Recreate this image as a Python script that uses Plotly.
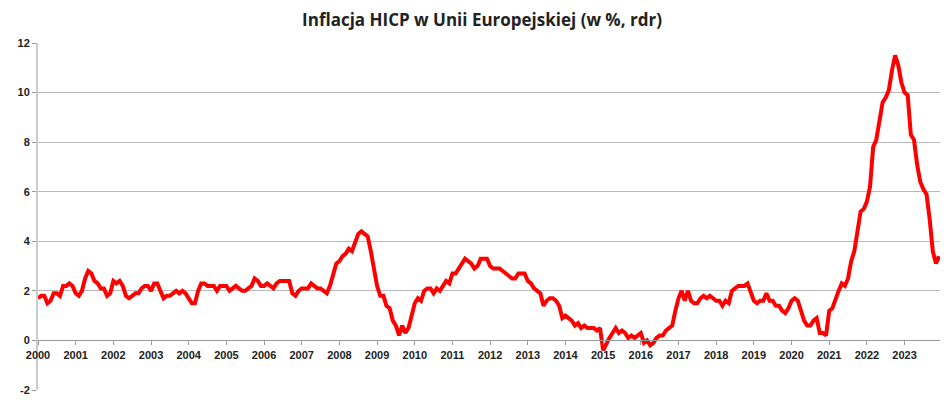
import numpy as np
import plotly.graph_objects as go

# monthly HICP y/y, 2000-01 .. 2023-12
years = list(range(2000, 2024))
hicp = [
    1.7, 1.8, 1.8, 1.5, 1.6, 1.9, 1.9, 1.8, 2.2, 2.2, 2.3, 2.2,   # 2000
    1.9, 1.8, 2.0, 2.5, 2.8, 2.7, 2.4, 2.3, 2.1, 2.1, 1.8, 1.9,   # 2001
    2.4, 2.3, 2.4, 2.2, 1.8, 1.7, 1.8, 1.9, 1.9, 2.1, 2.2, 2.2,   # 2002
    2.0, 2.3, 2.3, 2.0, 1.7, 1.8, 1.8, 1.9, 2.0, 1.9, 2.0, 1.9,   # 2003
    1.7, 1.5, 1.5, 2.0, 2.3, 2.3, 2.2, 2.2, 2.2, 2.0, 2.2, 2.2,   # 2004
    2.2, 2.0, 2.1, 2.2, 2.1, 2.0, 2.0, 2.1, 2.2, 2.5, 2.4, 2.2,   # 2005
    2.2, 2.3, 2.2, 2.1, 2.3, 2.4, 2.4, 2.4, 2.4, 1.9, 1.8, 2.0,   # 2006
    2.1, 2.1, 2.1, 2.3, 2.2, 2.1, 2.1, 2.0, 1.9, 2.2, 2.7, 3.1,   # 2007
    3.2, 3.4, 3.5, 3.7, 3.6, 4.0, 4.3, 4.4, 4.3, 4.2, 3.6, 2.8,   # 2008
    2.2, 1.8, 1.8, 1.4, 1.3, 0.8, 0.6, 0.2, 0.6, 0.3, 0.5, 1.0,   # 2009
    1.5, 1.7, 1.6, 2.0, 2.1, 2.1, 1.9, 2.1, 2.0, 2.2, 2.4, 2.3,   # 2010
    2.7, 2.7, 2.9, 3.1, 3.3, 3.2, 3.1, 2.9, 3.0, 3.3, 3.3, 3.3,   # 2011
    3.0, 2.9, 2.9, 2.9, 2.8, 2.7, 2.6, 2.5, 2.5, 2.7, 2.7, 2.7,   # 2012
    2.4, 2.3, 2.1, 2.0, 1.9, 1.4, 1.6, 1.7, 1.7, 1.6, 1.4, 0.9,   # 2013
    1.0, 0.9, 0.8, 0.6, 0.7, 0.5, 0.6, 0.5, 0.5, 0.5, 0.4, 0.5,   # 2014
    -0.4, -0.1, 0.1, 0.3, 0.5, 0.3, 0.4, 0.3, 0.1, 0.2, 0.1, 0.2,  # 2015
    0.3, -0.1, 0.0, -0.2, -0.1, 0.1, 0.2, 0.2, 0.4, 0.5, 0.6, 1.2,  # 2016
    1.7, 2.0, 1.6, 2.0, 1.6, 1.5, 1.5, 1.7, 1.8, 1.7, 1.8, 1.7,   # 2017
    1.6, 1.6, 1.4, 1.6, 1.5, 2.0, 2.1, 2.2, 2.2, 2.2, 2.3, 1.9,   # 2018
    1.6, 1.5, 1.6, 1.6, 1.9, 1.6, 1.6, 1.4, 1.4, 1.2, 1.1, 1.3,   # 2019
    1.6, 1.7, 1.6, 1.2, 0.8, 0.6, 0.6, 0.8, 0.9, 0.3, 0.3, 0.2,   # 2020
    1.2, 1.3, 1.7, 2.0, 2.3, 2.2, 2.5, 3.2, 3.6, 4.4, 5.2, 5.3,   # 2021
    5.6, 6.2, 7.8, 8.1, 8.8, 9.6, 9.8, 10.1, 10.9, 11.5, 11.1, 10.4,  # 2022
    10.0, 9.9, 8.3, 8.1, 7.1, 6.4, 6.1, 5.9, 4.9, 3.6, 3.1, 3.4,  # 2023
]
t = np.arange(len(hicp)) / 12 + years[0]

fig = go.Figure()
fig.add_trace(go.Scatter(x=t, y=hicp, mode="lines",
                         line=dict(color="#ff0000", width=4)))

fig.update_layout(
    width=948, height=403,
    margin=dict(l=30, r=10, t=35, b=21),
    paper_bgcolor="white", plot_bgcolor="white",
    showlegend=False,
    font=dict(family="Liberation Sans, Arial", size=11, color="#222"),
    title=dict(text="<b>Inflacja HICP w Unii Europejskiej (w %, rdr)</b>",
               x=0.5, xanchor="center", y=0.985, yanchor="top",
               font=dict(family="Open Sans", size=17, color="#222")),
)
fig.update_xaxes(range=[2000, 2024.1], tickvals=years, ticktext=[f"<b>{y}</b>" for y in years],
                 ticks="outside", ticklen=4, tickcolor="#999", showgrid=False,
                 showline=True, linecolor="#999", anchor="free", position=2 / 14,
                 zeroline=False)
fig.update_yaxes(range=[-2, 12], showgrid=True, gridcolor="#b8b8b8",
                 tickvals=list(range(-2, 13, 2)), ticktext=[f"<b>{v}</b>" for v in range(-2, 13, 2)],
                 showline=True, linecolor="#ccc", linewidth=2, zeroline=False,
                 ticks="outside", ticklen=4, tickcolor="#999")

fig.write_html("out.html")
